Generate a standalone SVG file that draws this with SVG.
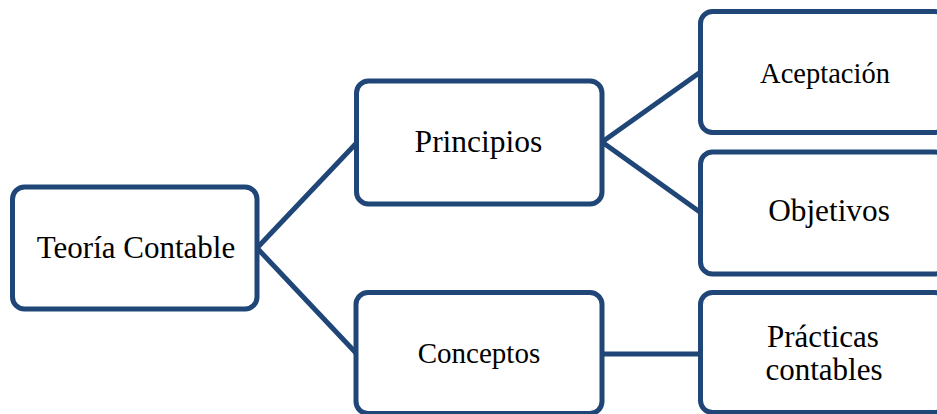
<svg xmlns="http://www.w3.org/2000/svg" width="937" height="414" viewBox="0 0 937 414">
<style>
.box{fill:#ffffff;stroke:#1f4677;stroke-width:5}
.edge{fill:none;stroke:#1f4677;stroke-width:5}
text{font-family:"Liberation Serif","Times New Roman",serif;fill:#000;text-anchor:middle}
</style>
<rect width="937" height="414" fill="#ffffff"/>
<g id="connectors">
<line class="edge" x1="257" y1="248" x2="356.5" y2="143"/>
<line class="edge" x1="257" y1="248" x2="356" y2="353"/>
<line class="edge" x1="602" y1="142" x2="700.5" y2="72"/>
<line class="edge" x1="602" y1="142" x2="700.5" y2="212.5"/>
<line class="edge" x1="602" y1="354" x2="700.5" y2="354"/>
</g>
<g id="teoria">
<rect class="box" x="12.5" y="187" width="244.5" height="122" rx="12"/>
<text x="136" y="258" font-size="31">Teoría Contable</text>
</g>
<g id="principios">
<rect class="box" x="356.5" y="81" width="245.5" height="123" rx="12"/>
<text x="478.5" y="152" font-size="31.5">Principios</text>
</g>
<g id="conceptos">
<rect class="box" x="356" y="292.5" width="246" height="121" rx="12"/>
<text x="479" y="363" font-size="29">Conceptos</text>
</g>
<g id="aceptacion">
<rect class="box" x="700.5" y="11.5" width="246" height="121" rx="12"/>
<text x="825" y="83" font-size="28.5">Aceptación</text>
</g>
<g id="objetivos">
<rect class="box" x="700.5" y="152" width="246" height="122" rx="12"/>
<text x="829" y="221" font-size="31.3">Objetivos</text>
</g>
<g id="practicas">
<rect class="box" x="700.5" y="292.5" width="246" height="120" rx="12"/>
<text x="823" y="347" font-size="31">Prácticas</text>
<text x="824" y="380" font-size="31">contables</text>
</g>
</svg>
